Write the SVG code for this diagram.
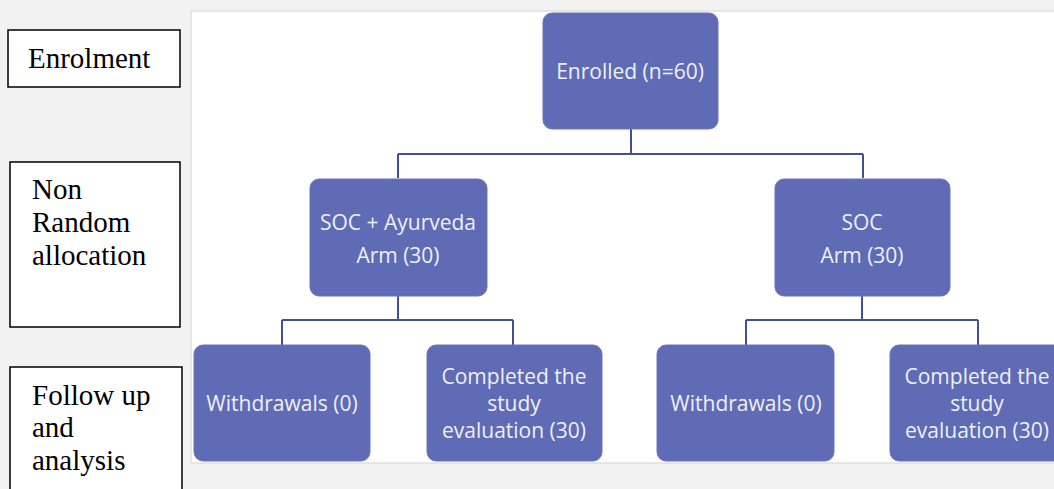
<svg xmlns="http://www.w3.org/2000/svg" width="1054" height="489" viewBox="0 0 1054 489">
<style>
.bg{fill:#f2f2f2}
.panel{fill:#ffffff;stroke:#e0e0e0;stroke-width:1.5}
.lbl{fill:#ffffff;stroke:#000000;stroke-width:1.5}
.lt{font-family:"Liberation Serif","Times New Roman",serif;font-size:29px;fill:#000000}
.node{fill:#5f6bb5;stroke:#6a75bb;stroke-width:1}
.nt{font-family:"Open Sans","Noto Sans",sans-serif;font-size:21px;fill:#eef0f8;text-anchor:middle}
.conn{fill:none;stroke:#45518f;stroke-width:2}
</style>
<rect class="bg" x="0" y="0" width="1054" height="489"/>
<rect class="panel" x="191" y="11" width="870" height="452"/>
<g id="label-enrolment">
<rect class="lbl" x="8" y="30" width="172" height="57"/>
<text class="lt" x="28" y="68">Enrolment</text>
</g>
<g id="label-allocation">
<rect class="lbl" x="10" y="162" width="170" height="165"/>
<text class="lt" x="32" y="199">Non</text>
<text class="lt" x="32" y="232">Random</text>
<text class="lt" x="32" y="265">allocation</text>
</g>
<g id="label-followup">
<rect class="lbl" x="10" y="367" width="172" height="130"/>
<text class="lt" x="32" y="405">Follow up</text>
<text class="lt" x="32" y="437">and</text>
<text class="lt" x="32" y="470">analysis</text>
</g>
<g id="connectors">
<path class="conn" d="M631 129V154M398 154H863M398 154V178M863 154V178"/>
<path class="conn" d="M398 296V320M282 320H513M282 320V345M513 320V345"/>
<path class="conn" d="M862 296V320M746 320H978M746 320V345M978 320V345"/>
</g>
<g id="enrolled">
<rect class="node" x="543" y="13" width="175" height="116" rx="9"/>
<text class="nt" x="630" y="79">Enrolled (n=60)</text>
</g>
<g id="soc-ayurveda">
<rect class="node" x="310" y="179" width="177" height="117" rx="9"/>
<text class="nt" x="398" y="230">SOC + Ayurveda</text>
<text class="nt" x="398" y="263">Arm (30)</text>
</g>
<g id="soc">
<rect class="node" x="775" y="179" width="175" height="117" rx="9"/>
<text class="nt" x="862" y="230">SOC</text>
<text class="nt" x="862" y="263">Arm (30)</text>
</g>
<g id="withdrawals-1">
<rect class="node" x="194" y="345" width="176" height="116" rx="9"/>
<text class="nt" x="282" y="411">Withdrawals (0)</text>
</g>
<g id="completed-1">
<rect class="node" x="427" y="345" width="175" height="116" rx="9"/>
<text class="nt" x="514" y="384">Completed the</text>
<text class="nt" x="514" y="411">study</text>
<text class="nt" x="514" y="438">evaluation (30)</text>
</g>
<g id="withdrawals-2">
<rect class="node" x="657" y="345" width="177" height="116" rx="9"/>
<text class="nt" x="746" y="411">Withdrawals (0)</text>
</g>
<g id="completed-2">
<rect class="node" x="890" y="345" width="175" height="116" rx="9"/>
<text class="nt" x="977" y="384">Completed the</text>
<text class="nt" x="977" y="411">study</text>
<text class="nt" x="977" y="438">evaluation (30)</text>
</g>
</svg>
